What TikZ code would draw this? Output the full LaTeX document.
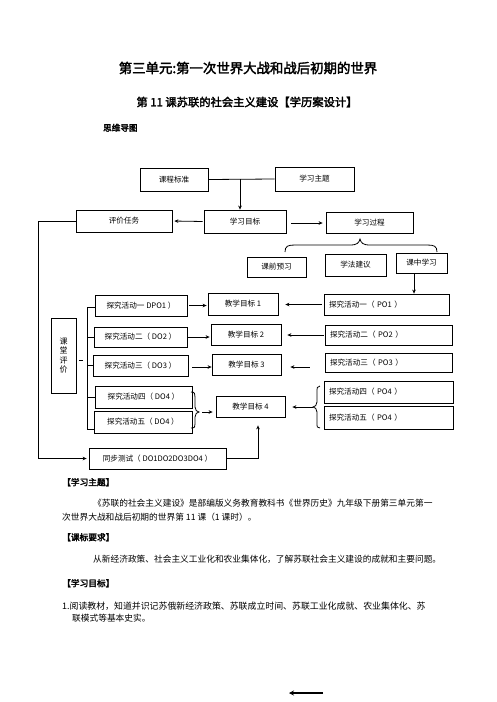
\documentclass[tikz,border=0pt]{standalone}
\usepackage{fontspec}
\newfontfamily\cjk[AutoFakeBold=2.5]{Noto Sans CJK SC}
\usetikzlibrary{arrows.meta,calc,decorations.pathreplacing}
\begin{document}
\begin{tikzpicture}[x=1pt,y=-1pt,
  bx/.style={draw, line width=0.8pt, inner sep=1pt, font=\cjk\fontsize{7.6}{9}\selectfont},
  lbx/.style={bx, inner xsep=5pt, align=left},
  arr/.style={-{Stealth[length=4pt,width=3.6pt]}, line width=0.8pt},
  ln/.style={line width=0.8pt},
  body/.style={anchor=base west, inner sep=0pt, font=\cjk\fontsize{8.7}{10}\selectfont},
  head/.style={anchor=base west, inner sep=0pt, font=\cjk\bfseries\fontsize{8.7}{10}\selectfont}]
\useasboundingbox (0,0) rectangle (496,702);
\fill[white] (0,0) rectangle (496,702);

% titles
\node[font=\cjk\bfseries\fontsize{13.4}{15}\selectfont, inner sep=0pt] (t1) at (248,68) {第三单元:第一次世界大战和战后初期的世界};
\node[font=\cjk\bfseries\fontsize{11.3}{13}\selectfont, inner sep=0pt] (t2) at (247,102) {第 11 课苏联的社会主义建设【学历案设计】};
\node[head, font=\cjk\bfseries\fontsize{8.6}{10}\selectfont] (t3) at (103,131) {思维导图};

% top boxes
\node[bx, minimum width=68pt, minimum height=23pt] (kcbz) at (174,179.5) {课程标准};
\node[bx, minimum width=79pt, minimum height=24pt] (xxzt) at (314.5,179) {学习主题};
\node[bx, minimum width=82pt, minimum height=23pt] (xxmb) at (245,221.5) {学习目标};
\node[bx, minimum width=96pt, minimum height=22pt] (pjrw) at (124,221) {评价任务};
\node[bx, minimum width=87pt, minimum height=21pt] (xxgc) at (369.5,222.5) {学习过程};
\node[bx, minimum width=59pt, minimum height=20pt] (kqyx) at (276.5,267) {课前预习};
\node[bx, minimum width=61pt, minimum height=22pt] (xfjy) at (355.5,265) {学法建议};
\node[bx, minimum width=51pt, minimum height=20pt] (kzxx) at (421.5,263) {课中学习};

% right column
\node[lbx, text width=115pt, minimum height=21pt] (r1) at (386.5,304.5) {探究活动一（ PO1 ）};
\node[lbx, text width=117pt, minimum height=20pt] (r2) at (388.5,335) {探究活动二（ PO2 ）};
\node[lbx, text width=117pt, minimum height=19pt] (r3) at (388.5,362.5) {探究活动三（ PO3 ）};
\node[lbx, text width=119pt, minimum height=22pt] (r4) at (388.5,392) {探究活动四（ PO4 ）};
\node[lbx, text width=119pt, minimum height=23pt] (r5) at (388.5,417.5) {探究活动五（ PO4 ）};

% middle column
\node[bx, minimum width=70pt, minimum height=22pt] (m1) at (243,304) {教学目标 1};
\node[bx, minimum width=70pt, minimum height=21pt] (m2) at (246,334.5) {教学目标 2};
\node[bx, minimum width=69pt, minimum height=21pt] (m3) at (246.5,364.5) {教学目标 3};
\node[bx, minimum width=69pt, minimum height=21pt] (m4) at (250.5,406.5) {教学目标 4};

% left column
\node[bx, minimum width=92pt, minimum height=21pt] (l1) at (141,305.5) {探究活动一 DPO1 ）};
\node[bx, minimum width=93pt, minimum height=20pt] (l2) at (140.5,337) {探究活动二（ DO2 ）};
\node[bx, minimum width=95pt, minimum height=21pt] (l3) at (140.5,365.5) {探究活动三（ DO3 ）};
\node[bx, minimum width=97pt, minimum height=22pt] (l4) at (143.5,397) {探究活动四（ DO4 ）};
\node[bx, minimum width=98pt, minimum height=22pt] (l5) at (143,422) {探究活动五（ DO4 ）};
\node[bx, minimum width=137pt, minimum height=21pt] (tbcs) at (157.5,458.5) {同步测试（ DO1DO2DO3DO4 ）};
\node[bx, minimum width=25pt, minimum height=75pt, align=center, font=\cjk\fontsize{8}{9.6}\selectfont] (ktpj) at (63.5,355.5) {课\\堂\\评\\价};

% connectors top
\coordinate (j1) at (240,179);
\draw[ln] (kcbz.east) -- (xxzt.west);
\draw[arr] (j1) -- (j1 |- xxmb.north);
\draw[arr, shorten <=1pt, shorten >=2pt] (xxmb.west) -- (pjrw.east);
\draw[arr, shorten <=5pt, shorten >=3pt] (xxmb.east |- 0,223) -- (xxgc.west |- 0,223);
\draw[ln] (285,252) .. controls (285,246) and (288,245) .. (295,245) -- (350,245)
  .. controls (357,245) and (359,243) .. (360,239)
  .. controls (361,243) and (363,245) .. (370,245) -- (427,245)
  .. controls (434,245) and (437,246) .. (437,252);
\coordinate (j2) at (414,0);
\draw[arr] (j2 |- kzxx.south) -- (j2 |- r1.north);

% right to middle
\draw[arr, shorten <=2pt, shorten >=7pt] (r1.west) -- (m1.east |- r1.west);
\draw[arr, shorten <=1pt, shorten >=6pt] (r2.west) -- (m2.east |- r2.west);
\draw[arr, shorten <=15pt, shorten >=9pt] (r3.west |- 0,367) -- (m3.east |- 0,367);
\coordinate (rb) at (313,407);
\draw[ln] (320,386) .. controls (317,386) and (317,388) .. (317,392) -- (317,402)
  .. controls (317,405) and (315,407) .. (rb)
  .. controls (315,407) and (317,409) .. (317,412) -- (317,423)
  .. controls (317,427) and (317,428) .. (320,428);
\draw[arr, shorten >=7pt] (rb) -- (m4.east |- rb);

% left to middle
\draw[arr, shorten <=2pt, shorten >=1pt] (l1.east) -- (m1.west |- l1.east);
\draw[arr, shorten <=0pt, shorten >=1pt] (l2.east) -- (m2.west |- l2.east);
\draw[arr, shorten <=4pt, shorten >=0pt] (l3.east |- 0,367) -- (m3.west |- 0,367);
\coordinate (lb) at (199,412);
\draw[ln] (191,392) .. controls (195,392) and (195,394) .. (195,397) -- (195,407)
  .. controls (195,410) and (197,412) .. (lb)
  .. controls (197,412) and (195,414) .. (195,417) -- (195,424)
  .. controls (195,427) and (195,428) .. (191,428);
\draw[arr, shorten <=3pt, shorten >=3pt] (lb) -- (m4.west |- lb);

% test to goal 4
\coordinate (j3) at (258,0);
\draw[arr, shorten >=8pt] (tbcs.east) -| (j3 |- m4.south);

% outer loop
\coordinate (lp) at (38,0);
\draw[arr, shorten >=2pt] (pjrw.west) -| (lp |- tbcs.west) -- (tbcs.west);

% left bracket
\coordinate (bk) at (87,0);
\draw[ln] (bk |- 0,307) -- (bk |- 0,429);
\draw[ln] (bk |- 0,307) -- (l1.west |- 0,307);
\draw[ln] (bk |- l2.west) -- (l2.west);
\draw[ln] (bk |- l3.west) -- (l3.west);
\draw[ln] (bk |- 0,397) -- (l4.west |- 0,397);
\draw[ln] (bk |- 0,429) -- (l5.west |- 0,429);
\draw[ln] ($(ktpj.east)+(3,5)$) -- ($(ktpj.east)+(7,5)$);

% body text
\node[head] (h1) at (62,485.5) {【学习主题】};
\node[body] (p1) at (93,506.5) {《苏联的社会主义建设》是部编版义务教育教科书《世界历史》九年级下册第三单元第一};
\node[body] (p2) at (62,520.5) {次世界大战和战后初期的世界第 11 课（1 课时）。};
\node[head] (h2) at (62,540.5) {【课标要求】};
\node[body] (p3) at (93,562.5) {从新经济政策、社会主义工业化和农业集体化，了解苏联社会主义建设的成就和主要问题。};
\node[head] (h3) at (62,586.5) {【学习目标】};
\node[body, font=\cjk\fontsize{8.9}{10}\selectfont] (p4) at (62,609.5) {1.阅读教材，知道并识记苏俄新经济政策、苏联成立时间、苏联工业化成就、农业集体化、苏};
\node[body] (p5) at (72,621) {联模式等基本史实。};

% bottom arrow
\coordinate (ba1) at (323,693);
\coordinate (ba2) at (289,693);
\draw[-{Stealth[length=5pt,width=5pt]}, line width=1.4pt] (ba1) -- (ba2);
\end{tikzpicture}
\end{document}
